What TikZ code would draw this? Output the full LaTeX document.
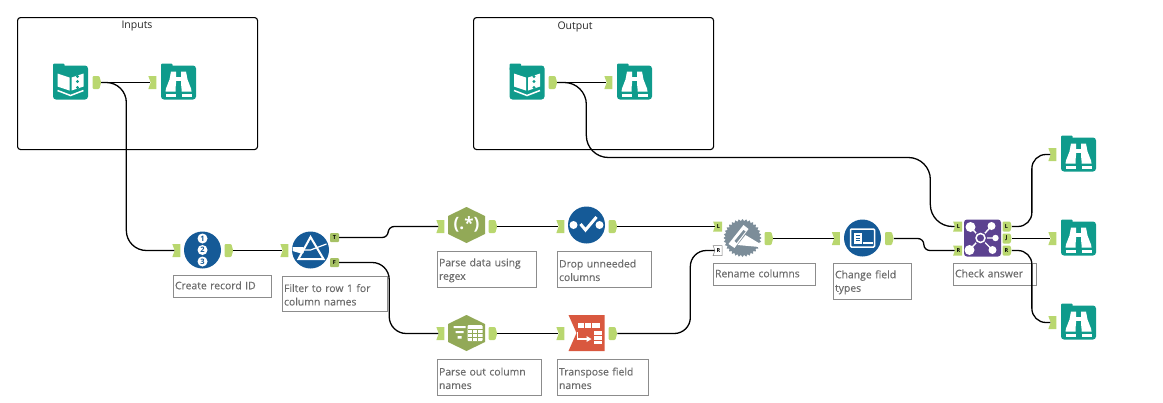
\documentclass[tikz,border=0pt]{standalone}
\usepackage{fontspec}
\setmainfont{Open Sans}
\newfontfamily\notefont[FakeBold=0.35]{Open Sans}
\usetikzlibrary{positioning,shapes,shapes.symbols,shapes.geometric}
\definecolor{tealtool}{HTML}{0F9B8C}
\definecolor{bluetool}{HTML}{155A97}
\definecolor{olivetool}{HTML}{92A957}
\definecolor{redtool}{HTML}{D9583F}
\definecolor{greytool}{HTML}{7C8D99}
\definecolor{purpletool}{HTML}{5C4290}
\definecolor{portgreen}{HTML}{B9D76F}
\definecolor{labelgrey}{HTML}{6C6C6C}
\tikzset{
  groupbox/.style={draw=black, line width=1.1pt, rounded corners=3pt, anchor=north west, inner sep=0pt},
  grouptitle/.style={font=\fontsize{10.5}{12}\selectfont, text=black!85},
  toolspot/.style={minimum size=36pt, inner sep=0pt},
  tealspot/.style={toolspot, minimum width=35pt, minimum height=34pt, fill=tealtool, rounded corners=3pt},
  bluespot/.style={circle, toolspot, minimum size=37pt, fill=bluetool},
  portin/.style={signal, signal from=west, signal to=nowhere, signal pointer angle=140, fill=portgreen,
    minimum width=8pt, minimum height=13pt, inner sep=0pt, font=\fontsize{5.5}{6}\selectfont\bfseries},
  portout/.style={signal, signal from=nowhere, signal to=east, signal pointer angle=150, fill=portgreen,
    rounded corners=1pt, minimum width=8.5pt, minimum height=13pt, inner sep=0pt, font=\fontsize{5.5}{6}\selectfont\bfseries},
  portflag/.style={rectangle, fill=portgreen!90!black, minimum size=9pt, inner sep=0pt, rounded corners=1pt,
    font=\fontsize{5.5}{6}\selectfont\bfseries},
  wire/.style={draw=black, line width=1.3pt},
  toolnote/.style={draw=black!45, line width=1.1pt, anchor=north west, inner xsep=1.5pt, inner ysep=2pt, align=left,
    text=labelgrey, font=\notefont\fontsize{10.4}{13.5}\selectfont\strut, text width=#1-3pt},
  bookicon/.pic={
    \fill[tealtool, rounded corners=1pt] (-17.5,-19) rectangle (-6,-12);
    \fill[white] (-13,-9) -- (-1,-5) -- (-1,8) -- (-13,4) -- cycle;
    \fill[white] (1,-5) -- (13,-9) -- (13,4) -- (1,8) -- cycle;
    \fill[tealtool] (7,-6) circle (1.6) (7,-1) circle (1.6) (7,5) circle (1.6);
    \draw[white, line width=1.5pt] (-13,8) -- (0,13) -- (13,8);
  },
  browseicon/.pic={
    \fill[tealtool, rounded corners=1pt] (-17.5,-19) rectangle (-6,-12);
    \foreach \flip in {1,-1} {
      \fill[white, xscale=\flip] (-7.5,-11) -- (-2.5,-11) -- (-2.5,1) -- (-3,6) -- (-3,9) -- (-13,9)
        -- (-12.5,6) -- (-9,-3) -- cycle;
      \fill[white, xscale=\flip] (-3,11) rectangle (-13,14);
    }
    \fill[white] (-3,-6) rectangle (3,-2);
  },
  hexback/.pic={
    \fill[#1] (0,-18) -- (18.5,-9) -- (18.5,9) -- (0,18) -- (-18.5,9) -- (-18.5,-9) -- cycle;
  },
  tableicon/.pic={
    \fill[white] (-13,-7) rectangle (-1,-5) (-11,-2) rectangle (-3,0) (-9,3) rectangle (-5,5.5);
    \fill[white, rounded corners=1pt] (1,-8) rectangle (16,8);
    \draw[olivetool, line width=.8pt] (5.5,-4) -- (5.5,8) (10.5,-4) -- (10.5,8)
      (1,-4) -- (16,-4) (1,0) -- (16,0) (1,4) -- (16,4);
  },
  prismicon/.pic={
    \draw[white, line width=2pt, line join=miter] (0,-13) -- (13,9) -- (-12,9) -- cycle;
    \fill[white] (-18,-3) -- (-7,-3) -- (-7,3) -- (-11,3) -- (-18,1) -- cycle;
    \draw[white, line width=1.2pt] (-7,0) -- (0,0) -- (16,-6);
  },
  checkicon/.pic={
    \fill[white] (-13,0) circle (4) (13,0) circle (4);
    \draw[white, line width=3pt] (-6,-1) -- (-1,5) -- (10,-8);
  },
  transposeicon/.pic={
    \fill[redtool] (-18,-18) -- (18,-18) -- (18,18) -- (-18,18) -- (-10,0) -- cycle;
    \fill[white] (-9,-10) rectangle (13,-5);
    \draw[redtool, line width=.8pt] (-2,-10) -- (-2,-5) (5,-10) -- (5,-5);
    \draw[white, line width=1.5pt] (-9,-1) -- (-9,6) -- (1,6);
    \fill[white] (0,3) -- (5,6) -- (0,9) -- cycle;
    \fill[white] (7,-2) rectangle (15,11);
    \draw[redtool, line width=.8pt] (7,2.5) -- (15,2.5) (7,7) -- (15,7);
  },
  penicon/.pic={
    \fill[white] (-14,6) -- (1,-13) -- (6,-9) -- (-8,10) -- cycle;
    \fill[greytool] (-8,3) -- (1,-8) -- (3,-6.5) -- (-6,5) -- cycle;
    \fill[white] (-5,7) -- (3,-3) -- (18,6) -- (17,9) -- cycle;
  },
  fieldicon/.pic={
    \draw[white, line width=1.5pt, rounded corners=1pt] (-12,-9) rectangle (12,9);
    \fill[white] (-9,-5) rectangle (-1,6);
    \draw[bluetool, line width=.7pt] (-7,-2.5) -- (-3,-2.5) (-7,0) -- (-3,0) (-7,2.5) -- (-3,2.5);
    \fill[white] (0,3.5) rectangle (10,6);
  },
  joinicon/.pic={
    \draw[white, line width=1.4pt] (-2,0) -- (-12,-11) (-2,0) -- (9,-12) (-2,0) -- (13,0) (-2,0) -- (-13,12) (-2,0) -- (10,12);
    \fill[white] (-12,-11) circle (5) (9,-12) circle (4) (13,0) circle (3.2) (-13,12) circle (5) (10,12) circle (4);
    \fill[purpletool] (-2,0) circle (6.5);
    \draw[white, line width=1.5pt] (-2,0) circle (4.5);
  },
}
\begin{document}
\begin{tikzpicture}[x=1pt, y=-1pt]
\useasboundingbox (0,0) rectangle (1163,402);
% containers
\node[groupbox, minimum width=240pt, minimum height=132pt] (inputsbox) at (17,17) {};
\node[groupbox, minimum width=240pt, minimum height=132pt] (outputbox) at (473,17) {};
\node[grouptitle] (inputstitle) at (137,26.5) {Inputs};
\node[grouptitle] (outputtitle) at (575,26.5) {Output};
% annotations
\node[toolnote=98pt, minimum height=22pt] (ridnote) at (173,275) {Create record ID};
\node[toolnote=105pt, minimum height=35pt] (filternote) at (282,276) {Filter to row 1 for\\column names};
\node[toolnote=99pt, minimum height=36pt] (regexnote) at (437,251) {Parse data using\\regex};
\node[toolnote=94pt, minimum height=36pt] (dropnote) at (557,251) {Drop unneeded\\columns};
\node[toolnote=104pt, minimum height=36pt] (parsenote) at (437,359) {Parse out column\\names};
\node[toolnote=91pt, minimum height=36pt] (transnote) at (557,359) {Transpose field\\names};
\node[toolnote=102pt, minimum height=22pt] (renamenote) at (713,263) {Rename columns};
\node[toolnote=78pt, minimum height=36pt] (fieldnote) at (833,263) {Change field\\types};
\node[toolnote=83pt, minimum height=22pt] (joinnote) at (953,263) {Check answer};
% tools
\node[tealspot] (inbook) at (70.5,82.5) {};
\node[tealspot] (inbrowse) at (178.5,82.5) {};
\node[tealspot] (outbook) at (527,82.5) {};
\node[tealspot] (outbrowse) at (634.5,82.5) {};
\node[tealspot] (browsea) at (1078.5,154.5) {};
\node[tealspot] (browseb) at (1078.5,238.5) {};
\node[tealspot] (browsec) at (1078.5,322.5) {};
\node[bluespot] (recid) at (202.5,250) {};
\node[bluespot] (filter) at (310.5,250) {};
\node[bluespot] (drop) at (586.5,225) {};
\node[bluespot] (field) at (862.5,238) {};
\pic at (466.5,225) {hexback=olivetool};
\pic at (466.5,333) {hexback=olivetool};
\node[toolspot, text=white, font=\fontsize{17}{17}\selectfont\bfseries] (regex) at (466.5,224) {(.*)};
\node[toolspot] (parse) at (466.5,333) {};
\node[toolspot] (trans) at (586.5,333) {};
\node[star, star points=32, star point ratio=1.12, fill=greytool, minimum size=38pt, inner sep=0pt] (rename) at (742.5,238) {};
\node[tealspot, fill=purpletool, minimum width=37pt, minimum height=37pt] (join) at (982.5,238) {};
% icons
\pic at (inbook) {bookicon};
\pic at (outbook) {bookicon};
\pic at (inbrowse) {browseicon};
\pic at (outbrowse) {browseicon};
\pic at (browsea) {browseicon};
\pic at (browseb) {browseicon};
\pic at (browsec) {browseicon};
\node[circle, fill=white, text=bluetool, inner sep=0pt, minimum size=10pt, font=\fontsize{7.5}{8}\selectfont\bfseries] (ridone) at (202.5,238.5) {1};
\node[circle, fill=white, text=bluetool, inner sep=0pt, minimum size=10pt, font=\fontsize{7.5}{8}\selectfont\bfseries] (ridtwo) at (202.5,250) {2};
\node[circle, fill=white, text=bluetool, inner sep=0pt, minimum size=10pt, font=\fontsize{7.5}{8}\selectfont\bfseries] (ridthree) at (202.5,261.5) {3};
\pic at (filter) {prismicon};
\pic at (parse) {tableicon};
\pic at (drop) {checkicon};
\pic at (trans) {transposeicon};
\pic at (rename) {penicon};
\pic at (field) {fieldicon};
\pic at (join) {joinicon};
% ports
\node[portout] (inbook-o) at (96,82.5) {};
\node[portin] (inbrowse-i) at (153.5,82.5) {};
\node[portout] (outbook-o) at (552,82.5) {};
\node[portin] (outbrowse-i) at (609.5,82.5) {};
\node[portin] (recid-i) at (177.5,250.5) {};
\node[portout] (recid-o) at (228,250.5) {};
\node[portin] (filter-i) at (285.5,250.5) {};
\node[portflag] (filter-t) at (334.5,237.5) {T};
\node[portflag] (filter-f) at (334.5,262.5) {F};
\node[portin] (regex-i) at (441.5,226.5) {};
\node[portout] (regex-o) at (492,226.5) {};
\node[portin] (parse-i) at (441.5,333.5) {};
\node[portout] (parse-o) at (492,333.5) {};
\node[portin] (drop-i) at (561.5,226.5) {};
\node[portout] (drop-o) at (612,226.5) {};
\node[portin] (trans-i) at (561.5,333.5) {};
\node[portout] (trans-o) at (612,333.5) {};
\node[portin, minimum width=9pt, minimum height=10pt] (rename-l) at (718.5,226.5) {L};
\node[portin, minimum width=9pt, minimum height=10pt, fill=white, draw=black!50, line width=.5pt] (rename-r) at (718.5,250.5) {R};
\node[portout] (rename-o) at (768,238.5) {};
\node[portin] (field-i) at (837,238.5) {};
\node[portout] (field-o) at (888.5,238.5) {};
\node[portin, minimum width=9pt, minimum height=10pt] (join-l) at (958.5,226.5) {L};
\node[portin, minimum width=9pt, minimum height=10pt] (join-r) at (958.5,250.5) {R};
\node[portout, minimum width=9pt, minimum height=10pt] (join-lo) at (1006.5,226.5) {L};
\node[portout, minimum width=9pt, minimum height=10pt] (join-jo) at (1006.5,238.5) {J};
\node[portout, minimum width=9pt, minimum height=10pt] (join-ro) at (1006.5,250.5) {R};
\node[portin] (browsea-i) at (1053.5,154.5) {};
\node[portin] (browseb-i) at (1053.5,238.5) {};
\node[portin] (browsec-i) at (1053.5,322.5) {};
% wires
\draw[wire] (inbook-o.east) -- (inbrowse-i.west);
\draw[wire, rounded corners=20pt] (inbook-o.east) -- ++(25,0) |- (recid-i.west);
\draw[wire] (outbook-o.east) -- (outbrowse-i.west);
\draw[wire, rounded corners=22pt] (outbook-o.east) -- ++(29,0) -- ++(0,75) -- ++(344,0) |- (join-l.west);
\draw[wire] (recid-o.east) -- (filter-i.west);
\draw[wire, rounded corners=6pt] (filter-t.east) -- ++(49,0) |- (regex-i.west);
\draw[wire, rounded corners=17pt] (filter-f.east) -- ++(50,0) |- (parse-i.west);
\draw[wire] (regex-o.east) -- (drop-i.west);
\draw[wire] (parse-o.east) -- (trans-i.west);
\draw[wire] (drop-o.east) -- (rename-l.west);
\draw[wire, rounded corners=16pt] (trans-o.east) -- ++(73,0) |- (rename-r.west);
\draw[wire] (rename-o.east) -- (field-i.west);
\draw[wire, rounded corners=6pt] (field-o.east) -- ++(30,0) |- (join-r.west);
\draw[wire, rounded corners=14pt] (join-lo.east) -- ++(20,0) |- (browsea-i.west);
\draw[wire] (join-jo.east) -- (browseb-i.west);
\draw[wire, rounded corners=14pt] (join-ro.east) -- ++(20,0) |- (browsec-i.west);
\end{tikzpicture}
\end{document}
